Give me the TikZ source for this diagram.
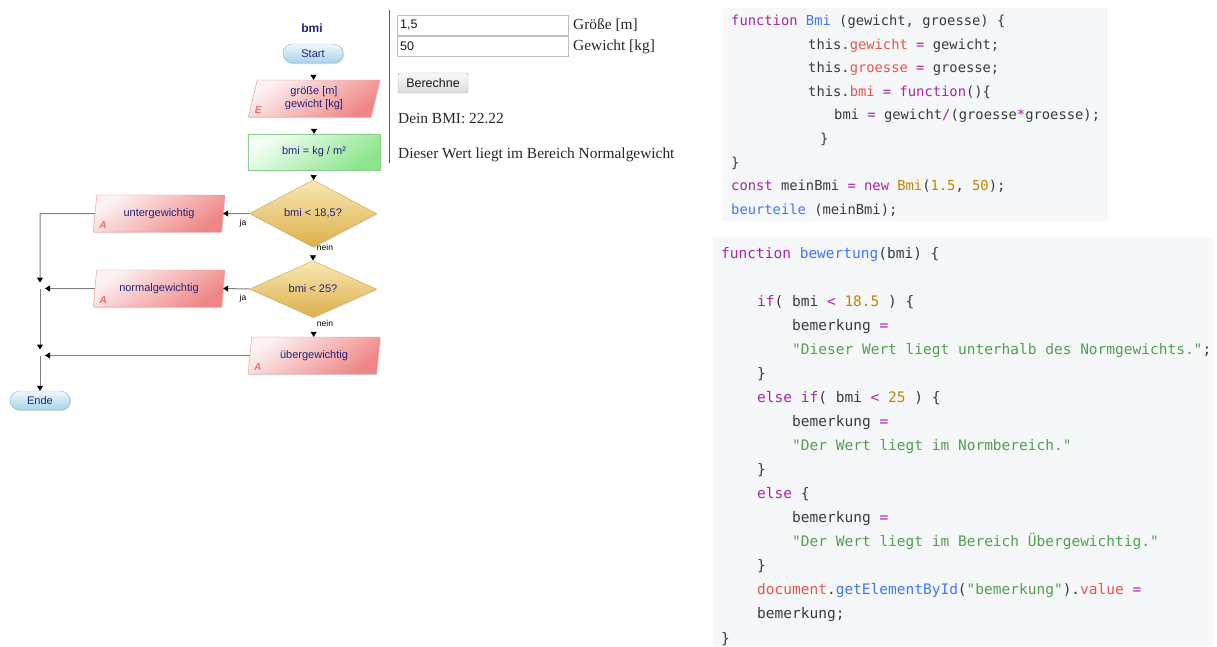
\documentclass[tikz,border=0pt]{standalone}
\usepackage{fontspec}
\setmonofont{DejaVu Sans Mono}
\newfontfamily\flowfont{Liberation Sans}
\newfontfamily\webfont{Liberation Serif}
\usetikzlibrary{shapes.geometric,arrows.meta,calc,shadows}
\definecolor{flowtext}{HTML}{23237A}
\definecolor{iotop}{HTML}{FDF2F2}
\definecolor{iobot}{HTML}{EF8585}
\definecolor{ioborder}{HTML}{E98C8C}
\definecolor{proctop}{HTML}{F4FFF4}
\definecolor{procbot}{HTML}{8CE58C}
\definecolor{procborder}{HTML}{8CCF8C}
\definecolor{dectop}{HTML}{F8E8B4}
\definecolor{decbot}{HTML}{DDB04A}
\definecolor{decborder}{HTML}{D3A44A}
\definecolor{termtop}{HTML}{F0F8FD}
\definecolor{termbot}{HTML}{A8D3EB}
\definecolor{termborder}{HTML}{88B5CF}
\definecolor{markred}{HTML}{EE6E6E}
\definecolor{linegray}{HTML}{808080}
\definecolor{codebg}{HTML}{F6F7F8}
\definecolor{codetext}{HTML}{383A42}
\definecolor{ckwc}{HTML}{A626A4}
\definecolor{cfnc}{HTML}{4078F2}
\definecolor{cprc}{HTML}{E45649}
\definecolor{cnumc}{HTML}{C18401}
\definecolor{cstrc}{HTML}{50A14F}
\newcommand\ckw[1]{\textcolor{ckwc}{#1}}
\newcommand\cfn[1]{\textcolor{cfnc}{#1}}
\newcommand\cpr[1]{\textcolor{cprc}{#1}}
\newcommand\cnum[1]{\textcolor{cnumc}{#1}}
\newcommand\cstr[1]{\textcolor{cstrc}{#1}}
\begin{document}
\begin{tikzpicture}[x=1pt,y=-1pt,
  flowtxt/.style={font=\flowfont\fontsize{11}{13}\selectfont, text=flowtext, align=center},
  shad/.style={drop shadow={shadow xshift=1pt, shadow yshift=-1pt, opacity=0.25, fill=black!60}},
  io/.style={trapezium, trapezium left angle=79, trapezium right angle=101,
    trapezium stretches=true, minimum width=132pt, minimum height=37pt, inner sep=0pt,
    draw=ioborder, top color=iotop, bottom color=iobot, shading angle=35, shad, flowtxt},
  proc/.style={rectangle, minimum width=132pt, minimum height=36pt, inner sep=0pt,
    draw=procborder, top color=proctop, bottom color=procbot, shading angle=35, shad, flowtxt},
  decision/.style={diamond, minimum width=127pt, minimum height=55pt, inner sep=0pt,
    draw=decborder, top color=dectop, bottom color=decbot, shad, flowtxt},
  term/.style={rectangle, rounded corners=9.5pt, minimum width=60pt, minimum height=19pt,
    inner sep=0pt, draw=termborder, top color=termtop, bottom color=termbot, shad, flowtxt},
  iomarker/.style={font=\flowfont\bfseries\itshape\fontsize{10}{10}\selectfont, text=markred, inner sep=0pt},
  branch/.style={font=\flowfont\fontsize{8.5}{9}\selectfont, text=black, inner sep=0pt},
  flowline/.style={draw=linegray, line width=1pt, -{Triangle[width=6pt,length=5pt,color=black]}},
  hidden/.style={draw=white, line width=0.5pt, shorten <=2pt, -{Triangle[width=6pt,length=5pt,color=black]}},
  webtxt/.style={font=\webfont\fontsize{15.4}{17}\selectfont, text=black!85, anchor=base west, inner sep=0pt},
  sanstxt/.style={font=\flowfont\fontsize{12.5}{14}\selectfont, text=black!90, inner sep=0pt},
  codeA/.style={anchor=base west, inner sep=0pt, font=\ttfamily\fontsize{13.8}{14}\selectfont, text=codetext},
  codeB/.style={anchor=base west, inner sep=0pt, font=\ttfamily\fontsize{14.5}{15}\selectfont, text=codetext}
]
\useasboundingbox (0,0) rectangle (1217,646);

% ---------- flowchart ----------
\node[flowtxt, font=\flowfont\bfseries\fontsize{12}{14}\selectfont] (title) at (312,28) {bmi};
\node[term] (start) at (313,53.5) {Start};
\node[io] (in) at (314,98.5) {größe [m]\\gewicht [kg]};
\node[iomarker] (inE) at ($(in.bottom left corner)+(10,-7)$) {E};
\node[proc] (calc) at (314,152) {bmi = kg / m²};
\node[decision] (d1) at (313,213.5) {bmi < 18,5?};
\node[decision] (d2) at (313,289) {bmi < 25?};
\node[io] (unter) at (159,213.5) {untergewichtig};
\node[iomarker] (unterA) at ($(unter.bottom left corner)+(10,-7)$) {A};
\node[io] (norm) at (159,288.5) {normalgewichtig};
\node[iomarker] (normA) at ($(norm.bottom left corner)+(10,-7)$) {A};
\node[io] (ueber) at (314,355.5) {übergewichtig};
\node[iomarker] (ueberA) at ($(ueber.bottom left corner)+(10,-7)$) {A};
\node[term] (ende) at (40,400.5) {Ende};

\node[branch] (ja1) at (243,223) {ja};
\node[branch] (nein1) at (325,247) {nein};
\node[branch] (ja2) at (243,298) {ja};
\node[branch] (nein2) at (325,323) {nein};

\coordinate (c0) at (40,213.5);
\coordinate (j1) at (40,288.5);
\coordinate (j2) at (40,355.5);

\draw[hidden] (start) -- (in);
\draw[hidden] (in) -- (calc);
\draw[hidden] (calc) -- (d1);
\draw[hidden] (d1) -- (d2);
\draw[hidden] (d2) -- (ueber);
\draw[flowline] (d1.west) -- (unter.east);
\draw[flowline] (d2.west) -- (norm.east);
\draw[flowline, shorten >=6pt] (unter.west) -- (c0) -- (j1);
\draw[flowline, shorten >=5pt] (norm.west) -- (j1);
\draw[flowline, shorten >=6pt] (j1) -- (j2);
\draw[flowline, shorten >=5pt] (ueber.west) -- (j2);
\draw[flowline] (j2) -- (ende.north);

% separator
\draw[draw=black!65, line width=1pt] (389,10) -- (389,163);

% ---------- web form ----------
\node[draw=black!25, line width=1pt, fill=white, minimum width=171pt, minimum height=20pt, inner sep=0pt] (box1) at (482.5,25) {};
\node[draw=black!25, line width=1pt, fill=white, minimum width=171pt, minimum height=20pt, inner sep=0pt] (box2) at (482.5,46) {};
\node[sanstxt, anchor=west] (v1) at (400,25) {1,5};
\node[sanstxt, anchor=west] (v2) at (400,46) {50};
\node[webtxt] (l1) at (573,29) {Größe [m]};
\node[webtxt] (l2) at (573,50) {Gewicht [kg]};
\node[draw=black!35, rounded corners=2pt, top color=black!2, bottom color=black!14, minimum width=70pt, minimum height=20pt, inner sep=0pt, sanstxt] (btn) at (433,83) {Berechne};
\node[webtxt] (res) at (398,123) {Dein BMI: 22.22};
\node[webtxt] (msg) at (398,158) {Dieser Wert liegt im Bereich Normalgewicht};

% ---------- code block 1 ----------
\fill[codebg] (722,8) rectangle (1108,221);
\node[codeA] (a1) at (731,25.5) {\ckw{function} \cfn{Bmi} (gewicht, groesse) \{};
\node[codeA] (a2) at (808,49.1) {this.\cpr{gewicht} \ckw{=} gewicht;};
\node[codeA] (a3) at (808,72.7) {this.\cpr{groesse} \ckw{=} groesse;};
\node[codeA] (a4) at (808,96.3) {this.\cpr{bmi} \ckw{=} \ckw{function}()\{};
\node[codeA] (a5) at (834,119.9) {bmi \ckw{=} gewicht\ckw{/}(groesse\ckw{*}groesse);};
\node[codeA] (a6) at (820,143.5) {\}};
\node[codeA] (a7) at (731,167.1) {\}};
\node[codeA] (a8) at (731,190.7) {\ckw{const} meinBmi \ckw{=} \ckw{new} \cnum{Bmi}(\cnum{1.5}, \cnum{50});};
\node[codeA] (a9) at (731,214.3) {\cfn{beurteile} (meinBmi);};

% ---------- code block 2 ----------
\fill[codebg] (713,237) rectangle (1213,646);
\node[codeB] (b0) at (721,258) {\ckw{function} \cfn{bewertung}(bmi) \{};
\node[codeB] (b2) at (757,306.1) {\ckw{if}( bmi \ckw{<} \cnum{18.5} ) \{};
\node[codeB] (b3) at (792,330.2) {bemerkung \ckw{=}};
\node[codeB] (b4) at (792,354.2) {\cstr{"Dieser Wert liegt unterhalb des Normgewichts."};};
\node[codeB] (b5) at (757,378.2) {\}};
\node[codeB] (b6) at (757,402.4) {\ckw{else} \ckw{if}( bmi \ckw{<} \cnum{25} ) \{};
\node[codeB] (b7) at (792,426.4) {bemerkung \ckw{=}};
\node[codeB] (b8) at (792,450.5) {\cstr{"Der Wert liegt im Normbereich."}};
\node[codeB] (b9) at (757,474.5) {\}};
\node[codeB] (b10) at (757,498.6) {\ckw{else} \{};
\node[codeB] (b11) at (792,522.7) {bemerkung \ckw{=}};
\node[codeB] (b12) at (792,546.7) {\cstr{"Der Wert liegt im Bereich Übergewichtig."}};
\node[codeB] (b13) at (757,570.8) {\}};
\node[codeB] (b14) at (757,594.8) {\cpr{document}.\cfn{getElementById}(\cstr{"bemerkung"}).\cpr{value} \ckw{=}};
\node[codeB] (b15) at (757,618.9) {bemerkung;};
\node[codeB] (b16) at (721,643) {\}};
\end{tikzpicture}
\end{document}
